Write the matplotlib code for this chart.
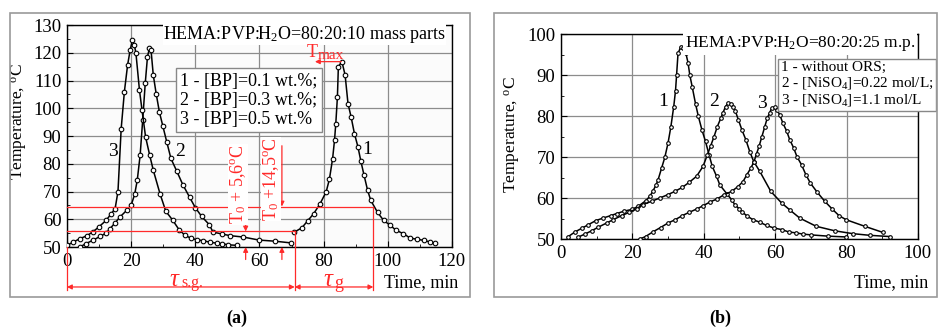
import numpy as np
import matplotlib.pyplot as plt
from matplotlib.patches import Rectangle
from matplotlib.ticker import MultipleLocator

plt.rcParams['font.family'] = ['Liberation Serif', 'DejaVu Serif']
plt.rcParams['mathtext.fontset'] = 'custom'
plt.rcParams['mathtext.rm'] = 'Liberation Serif'
plt.rcParams['mathtext.it'] = 'Liberation Serif:italic'
plt.rcParams['mathtext.bf'] = 'Liberation Serif:bold'

# ---- panel (a): HEMA:PVP:H2O = 80:20:10 ----
a1_x = [70.9, 73.2, 75, 76.9, 78.9, 80.8, 81.8, 82.8, 83.4, 83.8, 84.3, 84.6, 85.7, 86.7, 87.6,
        88.6, 89.6, 90.7, 91.6, 92.6, 93.7, 94.7, 96.8, 98.7, 100.8, 102.6, 104.9, 107, 109.1,
        111.2, 113.2, 114.8]
a1_t = [55.4, 56.9, 59.4, 62, 65.6, 69.9, 74.4, 81.8, 88.5, 94.5, 104, 115, 116.8, 112, 101.7,
        96.7, 90.9, 86.1, 81, 75.9, 70.5, 66.8, 62.5, 59.6, 57.8, 56, 54.8, 53.2, 52.8,
        52.4, 51.8, 51.4]
a2_x = [4, 5.9, 8, 10.3, 12.2, 13.4, 15, 16.5, 18.6, 20, 21.1, 21.9, 22.8, 23.6, 24.4, 25.1,
        25.7, 26.2, 26.9, 27.8, 28.8, 29.9, 31.1, 32.4, 34.2, 36.1, 38.2, 40, 42, 44.4, 45.5,
        48.3, 50.8, 54.9, 59.9, 64.8, 69.7]
a2_t = [50, 51.2, 52.4, 53.8, 55, 56.6, 58.7, 60.8, 63.2, 65, 69, 74, 83, 95.7, 109, 118.6,
        121.6, 121, 112, 105.3, 98.7, 93.5, 87.9, 81.9, 77.4, 72.5, 68, 64.2, 61, 58, 55.4,
        54.7, 54.1, 53.6, 52.5, 52.1, 51.5]
a3_x = [0, 2, 4, 6.1, 8, 9.9, 12.2, 13.8, 15, 15.9, 16.9, 17.9, 18.9, 19.7, 20.4, 21, 21.5,
        22.6, 23.4, 24.5, 25.8, 26.9, 29, 30.8, 33, 34.9, 36.8, 38.6, 40.5, 42.5, 44.6, 46.7,
        48.2, 50.3, 52.9]
a3_t = [50.6, 51.8, 53, 54, 55.4, 57.2, 59.6, 62, 63.8, 70, 92.7, 106, 115.6, 121, 124.6,
        122.8, 119.8, 106.5, 99.3, 89.7, 83, 77.7, 69.2, 62.9, 59.6, 56.3, 54.2, 53.2, 52.6,
        52.3, 51.7, 51.4, 51.2, 50.8, 50.6]
a_legend = ['1 - [BP]=0.1 wt.%;', '2 - [BP]=0.3 wt.%;', '3 - [BP]=0.5 wt.%']

# ---- panel (b): HEMA:PVP:H2O = 80:20:25 ----
b1_x = [1.9, 3.9, 5.8, 7.7, 9.8, 11.8, 13.9, 15.6, 17.7, 19.8, 21.7, 23.7, 24.9, 25.7, 26.6,
        27.2, 28.2, 29.1, 30, 30.8, 31.6, 32.1, 32.4, 32.8, 33.6, 34.2, 35, 35.6, 36.1, 36.8,
        37.7, 38.5, 39.5, 40.5, 41.5, 42.4, 43.6, 44.5, 46.5, 47.8, 48.7, 49.9, 50.8, 52,
        53.8, 55.7, 57.6, 59.6, 61.8, 63.9, 65.8, 67.8, 70.1, 74.8, 79.9]
b1_t = [50.5, 51.7, 52.6, 53.5, 54.5, 55.1, 55.7, 56.2, 56.8, 57.2, 58, 59.3, 60.4, 61.6, 63.1,
        64.4, 67.3, 69.9, 73.4, 77.4, 82.3, 86.2, 90, 95.3, 96.9, 96.5, 95.3, 93, 90, 87,
        83, 79.9, 76.6, 73.8, 70.5, 67.7, 65.3, 63.2, 61, 59.6, 58.4, 57.4, 56.6, 55.7,
        54.7, 54.1, 53.3, 52.7, 52.3, 51.7, 51.5, 51.2, 51, 50.7, 50.5]
b2_x = [4.7, 6.7, 8.6, 10.5, 12.8, 14.6, 17, 19.1, 21.2, 23, 25.4, 27.7, 29.9, 31.9, 34, 35.9,
        38, 39.8, 41, 41.9, 42.9, 43.8, 44.8, 45.4, 46.1, 46.8, 47.5, 48.2, 48.9, 49.7, 50.7,
        51.8, 52.9, 54, 55.7, 58.8, 61.8, 64.1, 66.9, 71.5, 76.7, 81.8, 86.5, 92.1]
b2_t = [50.4, 51.2, 52, 52.9, 53.9, 54.7, 55.7, 56.5, 57.4, 58.4, 59.2, 60, 60.8, 61.6, 62.6,
        63.8, 65.3, 67.7, 70.5, 72.6, 75, 77.4, 79.5, 80.8, 82.3, 83.1, 83, 82.3, 81.1, 79.1,
        76.6, 74.2, 71.3, 68.9, 66.5, 61.6, 58.8, 57.1, 55.1, 53.1, 52, 51.3, 50.9, 50.6]
b3_x = [22.1, 23.7, 25.7, 27.9, 30, 32, 34, 35.9, 38, 39.8, 41.7, 43.8, 45.7, 47.8, 49.6, 51,
        52.1, 53.2, 54.1, 54.8, 55.5, 56.3, 57.1, 57.8, 58.5, 59, 59.9, 60.5, 61.3, 62.2,
        63.2, 64.1, 65.2, 66.1, 67.4, 68.6, 69.9, 71.8, 73.9, 76, 77.9, 79.9, 85.1, 90.2]
b3_t = [50, 50.6, 51.7, 52.8, 53.9, 54.7, 55.7, 56.5, 57.3, 58.1, 59, 59.8, 60.8, 61.6, 62.8,
        64, 65.7, 67.3, 68.9, 70.8, 72.6, 75, 77.4, 79.5, 80.8, 81.9, 82.1, 81.5, 80.3, 78.2,
        76.4, 74.2, 72.2, 70.1, 68.1, 65.7, 63.6, 61.4, 59.2, 57.3, 55.7, 54.7, 53.1, 51.6]
b_legend = ['1 - without ORS;', '2 - [NiSO$_4$]=0.22 mol/L;', '3 - [NiSO$_4$]=1.1 mol/L']

red = '#ff2a2a'
fig = plt.figure(figsize=(9.38, 3.27), dpi=100)

# panel frames
fig.patches.append(Rectangle((0.0107, 0.092), 0.4904, 0.8685, transform=fig.transFigure,
                             fill=False, ec='#9a9a9a', lw=1.2))
fig.patches.append(Rectangle((0.5267, 0.092), 0.472, 0.8685, transform=fig.transFigure,
                             fill=False, ec='#9a9a9a', lw=1.2))


def style(ax, xmax, ymin, ymax):
    ax.set_xlim(0, xmax)
    ax.set_ylim(ymin, ymax)
    ax.grid(True, which='major', color='#8c8c8c', lw=0.9)
    ax.tick_params(which='both', direction='in', labelsize=13.5, pad=4)
    ax.tick_params(which='major', length=4)
    ax.tick_params(which='minor', length=2.5)
    ax.xaxis.set_major_locator(MultipleLocator(20))
    ax.xaxis.set_minor_locator(MultipleLocator(10))
    ax.yaxis.set_major_locator(MultipleLocator(10))
    ax.yaxis.set_minor_locator(MultipleLocator(5))
    for s in ax.spines.values():
        s.set_linewidth(1.0)
    ax.set_axisbelow(True)


def curve(ax, x, t, ms):
    ax.plot(x, t, '-o', color='black', lw=1.1, ms=ms, mfc='white', mec='black', mew=0.8,
            zorder=3)


# ---------- (a) ----------
ax = fig.add_axes([0.0714, 0.2446, 0.4104, 0.6789])
style(ax, 120, 50, 130)
ax.set_facecolor('#fbfbfb')
for x, t in [(a1_x, a1_t), (a2_x, a2_t), (a3_x, a3_t)]:
    curve(ax, x, t, 3.3)

ax.text(14.3, 84.6, '3', fontsize=14, ha='center', va='center')
ax.text(35.2, 84.6, '2', fontsize=14, ha='center', va='center')
ax.text(93.5, 85, '1', fontsize=14, ha='center', va='center')

ax.text(118, 126.7, 'HEMA:PVP:H$_2$O=80:20:10 mass parts', fontsize=13, ha='right', va='center',
        bbox=dict(fc='white', ec='none', pad=0), zorder=5)
ax.text(35.3, 112.8, '\n'.join(a_legend), fontsize=13, ha='left', va='top', linespacing=1.15,
        bbox=dict(boxstyle='square,pad=0.25', fc='white', ec='#888888', lw=1), zorder=5)

# red construction lines
rk = dict(color=red, lw=0.9, clip_on=False, zorder=4)
ax.plot([0, 95.5], [64.6, 64.6], **rk)
ax.plot([0, 71], [55.6, 55.6], **rk)
ax.plot([95.5, 95.5], [64.6, 34.4], **rk)
ax.plot([71, 71], [55.6, 34.4], **rk)
ax.plot([0, 0], [50, 34.4], **rk)
ap = dict(arrowstyle='<|-|>', color=red, lw=0.9, mutation_scale=7, shrinkA=0, shrinkB=0)
ax.annotate('', xy=(0, 35.6), xytext=(71, 35.6), arrowprops=ap, annotation_clip=False)
ax.annotate('', xy=(71, 35.6), xytext=(95.5, 35.6), arrowprops=ap, annotation_clip=False)
ax.text(35.6, 38.0, r'$\tau$', color=red, fontsize=18, ha='right', va='center', clip_on=False)
ax.text(35.6, 37.0, 's.g.', color=red, fontsize=11.5, ha='left', va='center', clip_on=False)
ax.text(83.6, 38.0, r'$\tau$', color=red, fontsize=18, ha='right', va='center', clip_on=False)
ax.text(83.4, 37.0, 'g', color=red, fontsize=13, ha='left', va='center', clip_on=False)

one = dict(arrowstyle='-|>', color=red, lw=0.9, mutation_scale=7, shrinkA=0, shrinkB=0)
for xv, top, lev in [(55.7, 81.5, 55.6), (67, 86.5, 64.6)]:
    ax.annotate('', xy=(xv, lev), xytext=(xv, top), arrowprops=one, annotation_clip=False)
    ax.annotate('', xy=(xv, 50), xytext=(xv, 45.5), arrowprops=one, annotation_clip=False)
ax.text(53.3, 72.5, 'T$_0$ + 5,6$^{\\mathrm{o}}$C', color=red, fontsize=13, rotation=90,
        ha='center', va='center', bbox=dict(fc='white', ec='none', pad=0.3), zorder=5)
ax.text(63.6, 74.5, 'T$_0$ +14,5$^{\\mathrm{o}}$C', color=red, fontsize=13, rotation=90,
        ha='center', va='center', bbox=dict(fc='white', ec='none', pad=0.3), zorder=5)
ax.annotate('', xy=(77.3, 116.8), xytext=(85.5, 116.8),
            arrowprops=dict(arrowstyle='-|>', color=red, lw=0.9, mutation_scale=7,
                            shrinkA=0, shrinkB=0))
ax.text(78.0, 120.2, 'T', color=red, fontsize=13, ha='right', va='center', zorder=5)
ax.text(78.0, 119.0, 'max', color=red, fontsize=11, ha='left', va='center', zorder=5)

ax.text(122, 37, 'Time, min', fontsize=13, ha='right', va='center', clip_on=False)
ax.set_ylabel('Temperature, $^{\\mathrm{o}}$C', fontsize=12.5)
ax.yaxis.set_label_coords(-0.097, 0.565)

# ---------- (b) ----------
bx = fig.add_axes([0.598, 0.2691, 0.3806, 0.6269])
style(bx, 100, 50, 100)
for x, t in [(b1_x, b1_t), (b2_x, b2_t), (b3_x, b3_t)]:
    curve(bx, x, t, 2.6)

bx.text(28.5, 83.5, '1', fontsize=14, ha='center', va='center')
bx.text(42.8, 83.5, '2', fontsize=14, ha='center', va='center')
bx.text(56.3, 83.1, '3', fontsize=14, ha='center', va='center')

bx.text(99.3, 97.6, 'HEMA:PVP:H$_2$O=80:20:25 m.p.', fontsize=12.5, ha='right', va='center',
        bbox=dict(fc='white', ec='none', pad=1), zorder=5)
bx.text(61.6, 93.5, '\n'.join(b_legend), fontsize=11, ha='left', va='top', linespacing=1.1,
        bbox=dict(boxstyle='square,pad=0.2', fc='white', ec='#888888', lw=1), zorder=5,
        clip_on=False)
bx.text(103, 39.3, 'Time, min', fontsize=13, ha='right', va='center', clip_on=False)
bx.set_ylabel('Temperature, $^{\\mathrm{o}}$C', fontsize=12.5)
bx.yaxis.set_label_coords(-0.105, 0.507)

fig.text(0.2527, 0.027, '(a)', fontsize=13, fontweight='bold', ha='center', va='center')
fig.text(0.7676, 0.027, '(b)', fontsize=13, fontweight='bold', ha='center', va='center')

fig.savefig('out.png', dpi=100, facecolor='white')
